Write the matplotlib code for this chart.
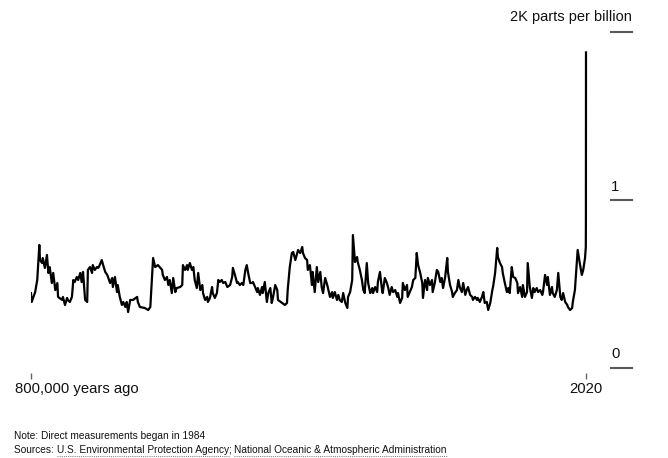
import matplotlib
matplotlib.use("Agg")
import matplotlib.pyplot as plt
from matplotlib.lines import Line2D

plt.rcParams['font.family'] = ['Liberation Sans', 'DejaVu Sans']

# ------------------------------------------------------------------
# Methane concentration, thousand years before 2020 vs parts per billion
# (ice-core record, then direct measurements since 1984)
# ------------------------------------------------------------------
kyr_ago = [800, 799, 797, 794, 791, 788, 787, 784, 783, 780, 777, 775, 773, 770, 768,
           765, 762, 761, 755, 754, 751, 748, 747, 744, 741, 739, 737, 734, 732, 729,
           727, 725, 722, 719, 718, 715, 712, 711, 708, 705, 703, 701, 698, 696, 693,
           690, 689, 686, 683, 682, 679, 676, 675, 672, 669, 667, 664, 662, 660, 657,
           653, 647, 646, 643, 636, 631, 628, 624, 621, 617, 611, 610, 607, 604, 602,
           600, 597, 595, 592, 590, 585, 582, 581, 578, 575, 574, 571, 568, 566, 564,
           561, 559, 556, 553, 552, 549, 546, 545, 542, 539, 538, 535, 532, 530, 528,
           525, 523, 520, 517, 513, 510, 509, 506, 503, 502, 499, 496, 494, 491, 489,
           487, 484, 481, 480, 477, 474, 473, 470, 467, 466, 463, 460, 458, 455, 453,
           451, 448, 445, 444, 438, 434, 431, 430, 427, 424, 422, 419, 417, 415, 412,
           409, 408, 405, 402, 401, 398, 395, 394, 391, 388, 386, 383, 381, 379, 376,
           373, 372, 369, 366, 365, 362, 359, 357, 355, 352, 350, 347, 344, 343, 340,
           337, 336, 333, 330, 329, 326, 323, 321, 319, 316, 314, 311, 308, 307, 304,
           301, 300, 297, 294, 293, 290, 287, 285, 283, 280, 278, 275, 272, 271, 268,
           265, 264, 261, 258, 257, 254, 251, 249, 246, 244, 242, 239, 236, 235, 232,
           229, 228, 225, 222, 221, 218, 215, 213, 210, 208, 206, 203, 200, 199, 196,
           193, 192, 189, 186, 184, 182, 179, 177, 174, 172, 170, 167, 164, 163, 160,
           157, 156, 153, 150, 148, 146, 143, 141, 138, 135, 134, 131, 128, 127, 124,
           121, 120, 117, 114, 112, 110, 107, 105, 102, 99, 98, 95, 92, 91, 88,
           85, 84, 81, 78, 76, 74, 71, 69, 66, 63, 62, 59, 56, 55, 52,
           49, 48, 45, 42, 40, 37, 35, 33, 30, 27, 26, 23, 20, 19, 16,
           13, 12, 9, 6, 4, 1.4, 0.27, 0.12, 0.036, 0]

methane_ppb = [445, 392, 416, 451, 523, 732, 642, 624, 654, 595, 672, 565, 600, 505, 565,
               463, 505, 422, 404, 422, 374, 416, 404, 392, 422, 523, 511, 541, 523, 565,
               511, 571, 404, 392, 583, 600, 565, 612, 583, 600, 595, 612, 642, 612, 571,
               553, 541, 505, 535, 481, 541, 451, 493, 422, 374, 392, 362, 392, 332, 404,
               404, 422, 392, 362, 356, 344, 362, 654, 600, 612, 583, 553, 523, 541, 493,
               523, 445, 535, 451, 475, 481, 493, 612, 583, 612, 583, 624, 583, 600, 523,
               475, 565, 463, 493, 445, 404, 422, 392, 416, 481, 445, 416, 445, 523, 511,
               523, 505, 511, 481, 493, 541, 595, 553, 505, 511, 493, 505, 493, 583, 612,
               565, 505, 505, 511, 481, 451, 475, 434, 481, 445, 511, 392, 445, 475, 386,
               422, 493, 463, 404, 386, 374, 386, 463, 600, 684, 690, 642, 672, 702, 684,
               720, 684, 654, 642, 583, 612, 493, 571, 451, 600, 511, 571, 481, 445, 535,
               493, 475, 422, 451, 416, 451, 404, 434, 404, 392, 445, 386, 356, 422, 451,
               523, 791, 630, 660, 630, 583, 523, 463, 445, 624, 505, 445, 475, 445, 481,
               451, 511, 571, 463, 445, 535, 505, 475, 434, 481, 451, 463, 422, 445, 386,
               416, 505, 463, 493, 422, 451, 481, 523, 535, 684, 612, 565, 505, 416, 523,
               463, 535, 493, 523, 451, 505, 583, 571, 511, 535, 475, 541, 654, 571, 493,
               451, 422, 445, 463, 523, 481, 451, 505, 434, 463, 481, 434, 422, 404, 422,
               404, 416, 392, 422, 451, 386, 392, 344, 386, 463, 481, 565, 714, 660, 624,
               600, 565, 505, 451, 475, 445, 600, 541, 535, 505, 445, 481, 422, 493, 422,
               451, 624, 481, 416, 475, 451, 475, 451, 463, 434, 451, 553, 493, 541, 434,
               481, 445, 422, 463, 565, 422, 404, 445, 392, 374, 362, 344, 356, 392, 463,
               642, 702, 624, 553, 583, 654, 720, 900, 1645, 1880]

x_ticks = [-800, 0]
x_tick_labels = ["800,000 years ago", "2020"]
y_ticks = [0, 1000, 2000]
y_tick_labels = ["0", "1", "2K parts per billion"]

years = [-a for a in kyr_ago]

fig = plt.figure(figsize=(6.68, 4.58), dpi=100)
W, H = 668, 458
# axes: x from px 31 (800k years ago) to px 632, y from 0 at px 367.7 to 2K at px 32.3
ax = fig.add_axes([31 / W, (H - 367.7) / H, (632 - 31) / W, 335.4 / H])
ax.set_xlim(-800, 46 * 800 / 555)
ax.set_ylim(0, 2000)

ax.plot(years, methane_ppb, color='black', lw=1.6, solid_joinstyle='round')

for s in ax.spines.values():
    s.set_visible(False)
ax.set_yticks([])

# x ticks, a few pixels below the axes
ax.set_xticks(x_ticks)
ax.set_xticklabels([])
ax.tick_params(axis='x', direction='out', length=4, width=1, color='#666666', pad=0)
ax.spines['bottom'].set_position(('outward', 4))

grey = '#5a5a5a'
text_kw = dict(fontsize=10.7, color='#111111')
for xv, lab in zip(x_ticks, x_tick_labels):
    if xv == x_ticks[0]:
        ax.annotate(lab, xy=(xv, 0), xycoords=('data', 'axes fraction'),
                    xytext=(-11.5, -15.5), textcoords='offset points',
                    ha='left', va='center', **text_kw)
    else:
        ax.annotate(lab, xy=(xv, 0), xycoords=('data', 'axes fraction'),
                    xytext=(0, -15.5), textcoords='offset points',
                    ha='center', va='center', **text_kw)

# y gridline stubs at the right edge
stub_start = (611 - 31) / (632 - 31)
for yv, lab in zip(y_ticks, y_tick_labels):
    ax.axhline(yv, xmin=stub_start, xmax=1, color=grey, lw=1.5, clip_on=False)
    if yv == y_ticks[-1]:
        ax.annotate(lab, xy=(1, yv), xycoords=('axes fraction', 'data'),
                    xytext=(0, 11), textcoords='offset points',
                    ha='right', va='center', fontsize=10.5, color='#111111')
    else:
        ax.annotate(lab, xy=(stub_start, yv), xycoords=('axes fraction', 'data'),
                    xytext=(0, 9.7), textcoords='offset points',
                    ha='left', va='center', **text_kw)

# footnotes
foot_kw = dict(fontsize=7.25, color='#111111', va='center', ha='left')
fig.text(14 / W, 1 - 436 / H, "Note: Direct measurements began in 1984", **foot_kw)

parts = ["Sources: ", "U.S. Environmental Protection Agency", "; ",
         "National Oceanic & Atmospheric Administration"]
linked = [False, True, False, True]
fig.canvas.draw()
renderer = fig.canvas.get_renderer()
x_px = 14
for txt, link in zip(parts, linked):
    t = fig.text(x_px / W, 1 - 450 / H, txt, **foot_kw)
    bb = t.get_window_extent(renderer)
    if link:
        yline = (bb.y0 - 0.5) / H
        fig.add_artist(Line2D([bb.x0 / W, bb.x1 / W], [yline, yline],
                              transform=fig.transFigure, color='#777777',
                              lw=0.7, ls=(0, (1, 1.2))))
    x_px = bb.x1

fig.savefig('out.png', dpi=100)
